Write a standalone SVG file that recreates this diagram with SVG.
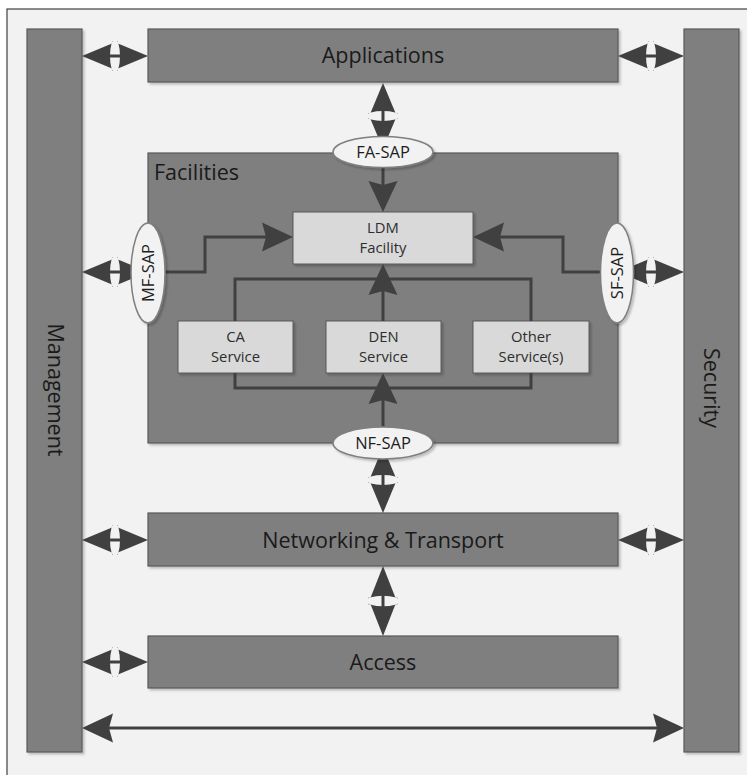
<svg xmlns="http://www.w3.org/2000/svg" xmlns:xlink="http://www.w3.org/1999/xlink" width="747" height="775" viewBox="0 0 747 775">
<style>
.big{fill:#7f7f7f;stroke:#595959;stroke-width:1.2}
.lite{fill:#d9d9d9;stroke:#595959;stroke-width:1}
.sap{fill:#f2f2f2;stroke:#7f7f7f;stroke-width:1.5}
.t-big{font-family:"Open Sans","Liberation Sans",sans-serif;font-size:21.5px;fill:#1a1a1a;text-anchor:middle}
.t-small{font-family:"Open Sans","Liberation Sans",sans-serif;font-size:14.8px;fill:#2e2e2e;text-anchor:middle}
.t-sap{font-family:"Open Sans","Liberation Sans",sans-serif;font-size:16.5px;fill:#1e1e1e;text-anchor:middle}
.ln{fill:none;stroke:#404040;stroke-width:3}
.hd{fill:#404040}
</style>
<defs>
<filter id="sh" x="-10%" y="-10%" width="130%" height="130%">
<feDropShadow dx="2" dy="2" stdDeviation="1" flood-color="#000" flood-opacity="0.22"/>
</filter>
<path id="head" class="hd" d="M0,0 L-31,-14.5 L-27,0 L-31,14.5 Z"/>
<g id="dbl">
<path class="hd" d="M0,0 L36,-15 L36,15 Z"/>
<path class="hd" d="M66,0 L30,-15 L30,15 Z"/>
<ellipse cx="33" cy="0" rx="5" ry="17" fill="#f2f2f2"/>
<line x1="24" y1="0" x2="42" y2="0" stroke="#404040" stroke-width="3"/>
</g>
</defs>
<rect x="0" y="0" width="747" height="775" fill="#ffffff"/>
<rect x="7" y="9" width="760" height="800" fill="#f2f2f2" stroke="#404040" stroke-width="1.2"/>

<g id="management"><rect class="big" x="27" y="29" width="55" height="723" filter="url(#sh)"/>
<text class="t-big" transform="translate(55,390) rotate(90)" x="0" y="7">Management</text></g>
<g id="security"><rect class="big" x="684" y="29" width="55" height="723" filter="url(#sh)"/>
<text class="t-big" transform="translate(711,388) rotate(90)" x="0" y="7">Security</text></g>
<g id="applications"><rect class="big" x="148" y="29" width="470" height="53" filter="url(#sh)"/>
<text class="t-big" x="383" y="63">Applications</text></g>
<g id="facilities"><rect class="big" x="148" y="153" width="470" height="290" filter="url(#sh)"/>
<text class="t-big" x="154" y="180" style="text-anchor:start">Facilities</text></g>
<g id="networking"><rect class="big" x="148" y="513" width="470" height="53" filter="url(#sh)"/>
<text class="t-big" x="383" y="548">Networking &amp; Transport</text></g>
<g id="access"><rect class="big" x="148" y="636" width="470" height="52" filter="url(#sh)"/>
<text class="t-big" x="383" y="670">Access</text></g>

<g id="ldm"><rect class="lite" x="293" y="212" width="180" height="52" filter="url(#sh)"/>
<text class="t-small" x="383" y="233">LDM</text><text class="t-small" x="383" y="253">Facility</text></g>
<g id="ca"><rect class="lite" x="178" y="321" width="115" height="52" filter="url(#sh)"/>
<text class="t-small" x="235.5" y="342">CA</text><text class="t-small" x="235.5" y="362">Service</text></g>
<g id="den"><rect class="lite" x="326" y="321" width="115" height="52" filter="url(#sh)"/>
<text class="t-small" x="383.5" y="342">DEN</text><text class="t-small" x="383.5" y="362">Service</text></g>
<g id="other"><rect class="lite" x="473" y="321" width="116" height="52" filter="url(#sh)"/>
<text class="t-small" x="531" y="342">Other</text><text class="t-small" x="531" y="362">Service(s)</text></g>

<g id="connectors">
<use href="#dbl" transform="translate(82,56)"/>
<use href="#dbl" transform="translate(618,56)"/>
<use href="#dbl" transform="translate(82,540)"/>
<use href="#dbl" transform="translate(618,540)"/>
<use href="#dbl" transform="translate(82,662)"/>
<use href="#dbl" transform="translate(82,272)"/>
<use href="#dbl" transform="translate(618,272)"/>
<use href="#dbl" transform="translate(383,83) rotate(90)"/>
<use href="#dbl" transform="translate(383,447) rotate(90)"/>
<use href="#dbl" transform="translate(383,566) rotate(90) scale(1.06,1)"/>

<line class="ln" x1="383" y1="167" x2="383" y2="186"/>
<use href="#head" transform="translate(383,212) rotate(90)"/>
<polyline class="ln" points="165,272 205,272 205,237 268,237"/>
<use href="#head" transform="translate(293,237)"/>
<polyline class="ln" points="601,272 563,272 563,237 498,237"/>
<use href="#head" transform="translate(473,237) rotate(180)"/>
<polyline class="ln" points="235,321 235,279 531,279 531,321"/>
<line class="ln" x1="383" y1="321" x2="383" y2="290"/>
<use href="#head" transform="translate(383,264) rotate(-90)"/>
<polyline class="ln" points="235,373 235,388 531,388 531,373"/>
<line class="ln" x1="383" y1="428" x2="383" y2="398"/>
<use href="#head" transform="translate(383,373) rotate(-90)"/>
<line class="ln" x1="105" y1="728" x2="660" y2="728"/>
<use href="#head" transform="translate(82,728) rotate(180)"/>
<use href="#head" transform="translate(684,728)"/>
</g>

<g id="fa-sap"><ellipse class="sap" cx="383" cy="152" rx="50" ry="15.5" filter="url(#sh)"/>
<text class="t-sap" x="383" y="158">FA-SAP</text></g>
<g id="nf-sap"><ellipse class="sap" cx="383" cy="443" rx="50" ry="16" filter="url(#sh)"/>
<text class="t-sap" x="383" y="449">NF-SAP</text></g>
<g id="mf-sap"><ellipse class="sap" cx="148" cy="273" rx="17" ry="50" filter="url(#sh)"/>
<text class="t-sap" transform="translate(148,273) rotate(-90)" x="0" y="6">MF-SAP</text></g>
<g id="sf-sap"><ellipse class="sap" cx="617" cy="273" rx="16.5" ry="50" filter="url(#sh)"/>
<text class="t-sap" transform="translate(617,273) rotate(-90)" x="0" y="6">SF-SAP</text></g>
</svg>
